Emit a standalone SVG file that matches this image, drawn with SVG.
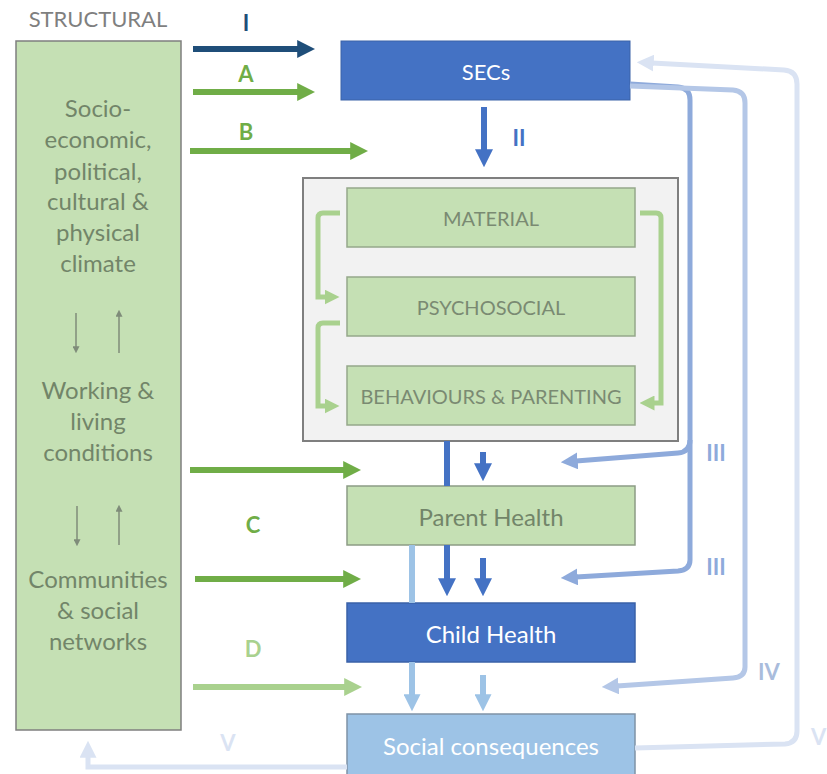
<svg xmlns="http://www.w3.org/2000/svg" width="827" height="774" viewBox="0 0 827 774">
<style>
text{font-family:Lato,"Open Sans","Liberation Sans",sans-serif;text-anchor:middle;dominant-baseline:central}
.lt{font-size:24px;fill:#728569}
.inner{font-size:20px;fill:#7a8a72}
.lbl{font-size:22px;font-weight:bold}
.greenbox{fill:#c5e0b4;stroke:#95a88b;stroke-width:1.5}
.ln{fill:none;stroke-width:6}
</style>
<defs>
<marker id="mNavy" viewBox="0 0 10 10" refX="1" refY="5" markerWidth="18" markerHeight="18" markerUnits="userSpaceOnUse" orient="auto"><path d="M0,0 L10,5 L0,10z" fill="#1f4e79"/></marker>
<marker id="mGreen" viewBox="0 0 10 10" refX="1" refY="5" markerWidth="18" markerHeight="18" markerUnits="userSpaceOnUse" orient="auto"><path d="M0,0 L10,5 L0,10z" fill="#70ad47"/></marker>
<marker id="mLGreen" viewBox="0 0 10 10" refX="1" refY="5" markerWidth="18" markerHeight="18" markerUnits="userSpaceOnUse" orient="auto"><path d="M0,0 L10,5 L0,10z" fill="#a9d18e"/></marker>
<marker id="mBrk" viewBox="0 0 10 10" refX="1" refY="5" markerWidth="15" markerHeight="15" markerUnits="userSpaceOnUse" orient="auto"><path d="M0,0 L10,5 L0,10z" fill="#a9d18e"/></marker>
<marker id="mBlue" viewBox="0 0 10 10" refX="1" refY="5" markerWidth="18" markerHeight="18" markerUnits="userSpaceOnUse" orient="auto"><path d="M0,0 L10,5 L0,10z" fill="#4472c4"/></marker>
<marker id="mLBlue" viewBox="0 0 10 10" refX="1" refY="5" markerWidth="17" markerHeight="17" markerUnits="userSpaceOnUse" orient="auto"><path d="M0,0 L10,5 L0,10z" fill="#9dc3e6"/></marker>
<marker id="mIII" viewBox="0 0 10 10" refX="1" refY="5" markerWidth="17" markerHeight="17" markerUnits="userSpaceOnUse" orient="auto"><path d="M0,0 L10,5 L0,10z" fill="#8eaadb"/></marker>
<marker id="mIV" viewBox="0 0 10 10" refX="1" refY="5" markerWidth="17" markerHeight="17" markerUnits="userSpaceOnUse" orient="auto"><path d="M0,0 L10,5 L0,10z" fill="#b4c7e7"/></marker>
<marker id="mV" viewBox="0 0 10 10" refX="1" refY="5" markerWidth="17" markerHeight="17" markerUnits="userSpaceOnUse" orient="auto"><path d="M0,0 L10,5 L0,10z" fill="#dae3f3"/></marker>
<marker id="mGray" viewBox="0 0 10 10" refX="1" refY="5" markerWidth="7" markerHeight="7" markerUnits="userSpaceOnUse" orient="auto"><path d="M0,0 L10,5 L0,10z" fill="#7f8c7a"/></marker>
</defs>
<rect width="827" height="774" fill="#ffffff"/>

<text x="98" y="18" style="font-size:22px;fill:#7f7f7f">STRUCTURAL</text>

<g id="structural">
<rect x="16" y="41" width="165" height="689" fill="#c5e0b4" stroke="#7f7f7f" stroke-width="1.5"/>
<text class="lt" x="98" y="107">Socio-</text>
<text class="lt" x="98" y="138">economic,</text>
<text class="lt" x="98" y="170">political,</text>
<text class="lt" x="98" y="200">cultural &amp;</text>
<text class="lt" x="98" y="231">physical</text>
<text class="lt" x="98" y="262">climate</text>
<text class="lt" x="98" y="389">Working &amp;</text>
<text class="lt" x="98" y="420">living</text>
<text class="lt" x="98" y="451">conditions</text>
<text class="lt" x="98" y="578">Communities</text>
<text class="lt" x="98" y="609">&amp; social</text>
<text class="lt" x="98" y="640">networks</text>
<g stroke="#7f8c7a" stroke-width="1.5" fill="none">
<line x1="76" y1="313" x2="76" y2="347" marker-end="url(#mGray)"/>
<line x1="119" y1="353" x2="119" y2="316" marker-end="url(#mGray)"/>
<line x1="77" y1="506" x2="77" y2="540" marker-end="url(#mGray)"/>
<line x1="119" y1="545" x2="119" y2="511" marker-end="url(#mGray)"/>
</g>
</g>

<g id="secs">
<rect x="341" y="41" width="289" height="59" fill="#4472c4" stroke="#3a62a8" stroke-width="1"/>
<text x="486" y="71" style="font-size:22px;fill:#ffffff">SECs</text>
</g>

<g id="intermediary">
<rect x="303" y="178" width="375" height="263" fill="#f2f2f2" stroke="#7f7f7f" stroke-width="2"/>
</g>
<g id="material">
<rect class="greenbox" x="347" y="188" width="288" height="59"/>
<text class="inner" x="491" y="218">MATERIAL</text>
</g>
<g id="psychosocial">
<rect class="greenbox" x="347" y="277" width="288" height="59"/>
<text class="inner" x="491" y="307">PSYCHOSOCIAL</text>
</g>
<g id="behaviours">
<rect class="greenbox" x="347" y="366" width="288" height="59"/>
<text class="inner" x="491" y="396">BEHAVIOURS &amp; PARENTING</text>
</g>

<g id="parent-health">
<rect x="347" y="486" width="288" height="59" fill="#c5e0b4" stroke="#8c9c85" stroke-width="1.5"/>
<text x="491" y="516" style="font-size:24px;fill:#728569">Parent Health</text>
</g>
<g id="child-health">
<rect x="347" y="603" width="288" height="59" fill="#4472c4" stroke="#3a62a8" stroke-width="1.5"/>
<text x="491" y="633" style="font-size:24px;fill:#ffffff">Child Health</text>
</g>
<g id="social-consequences">
<rect x="347" y="714" width="288" height="62" fill="#9dc3e6" stroke="#7f93a6" stroke-width="1.5"/>
<text x="491" y="745" style="font-size:24px;fill:#ffffff">Social consequences</text>
</g>

<g id="connectors">
<line class="ln" x1="193" y1="49" x2="299" y2="49" stroke="#1f4e79" marker-end="url(#mNavy)"/>
<line class="ln" x1="193" y1="92" x2="299" y2="92" stroke="#70ad47" marker-end="url(#mGreen)"/>
<line class="ln" x1="190" y1="151" x2="352" y2="151" stroke="#70ad47" marker-end="url(#mGreen)"/>
<line class="ln" x1="190" y1="470" x2="345" y2="470" stroke="#70ad47" marker-end="url(#mGreen)"/>
<line class="ln" x1="195" y1="579" x2="345" y2="579" stroke="#70ad47" marker-end="url(#mGreen)"/>
<line class="ln" x1="193" y1="687" x2="346" y2="687" stroke="#a9d18e" marker-end="url(#mLGreen)"/>

<line class="ln" x1="484" y1="107" x2="484" y2="151" stroke="#4472c4" marker-end="url(#mBlue)"/>

<path d="M340,213 L323,213 Q318,213 318,218 L318,297 L326,297" fill="none" stroke="#a9d18e" stroke-width="5" marker-end="url(#mBrk)"/>
<path d="M340,323 L323,323 Q318,323 318,328 L318,406 L326,406" fill="none" stroke="#a9d18e" stroke-width="5" marker-end="url(#mBrk)"/>
<path d="M640,213 L656,213 Q661,213 661,218 L661,403 L653,403" fill="none" stroke="#a9d18e" stroke-width="5" marker-end="url(#mBrk)"/>

<line class="ln" x1="447" y1="441" x2="447" y2="486" stroke="#4472c4"/>
<line class="ln" x1="447" y1="545" x2="447" y2="580" stroke="#4472c4" marker-end="url(#mBlue)"/>
<line class="ln" x1="483" y1="452" x2="483" y2="465" stroke="#4472c4" marker-end="url(#mBlue)"/>
<line class="ln" x1="483" y1="558" x2="483" y2="580" stroke="#4472c4" marker-end="url(#mBlue)"/>
<line class="ln" x1="412" y1="545" x2="412" y2="603" stroke="#9dc3e6"/>
<line class="ln" x1="412" y1="662" x2="412" y2="696" stroke="#9dc3e6" marker-end="url(#mLBlue)"/>
<line class="ln" x1="483" y1="675" x2="483" y2="696" stroke="#9dc3e6" marker-end="url(#mLBlue)"/>

<path d="M630,84 L678,87 Q690,88 690,100 L690,560 Q690,570 678,571 L576,577" fill="none" stroke="#8eaadb" stroke-width="5" marker-end="url(#mIII)"/>
<path d="M690,440 Q690,452 678,453 L576,461" fill="none" stroke="#8eaadb" stroke-width="5" marker-end="url(#mIII)"/>
<path d="M630,86 L733,90 Q745,91 745,103 L745,667 Q745,677 733,678 L617,686" fill="none" stroke="#b4c7e7" stroke-width="5" marker-end="url(#mIV)"/>
<path d="M635,748 L785,744 Q797,743 797,731 L797,84 Q797,71 784,70 L652,63" fill="none" stroke="#dae3f3" stroke-width="5" marker-end="url(#mV)"/>
<path d="M347,767 L88,767 L88,756" fill="none" stroke="#dae3f3" stroke-width="5" marker-end="url(#mV)"/>
</g>

<g id="labels">
<text class="lbl" x="246" y="22" fill="#1f4e79">I</text>
<text class="lbl" x="246" y="73" fill="#70ad47">A</text>
<text class="lbl" x="246" y="131" fill="#70ad47">B</text>
<text class="lbl" x="253" y="524" fill="#70ad47">C</text>
<text class="lbl" x="253" y="648" fill="#a9d18e">D</text>
<text class="lbl" x="519" y="137" fill="#4472c4">II</text>
<text class="lbl" x="716" y="452" fill="#8eaadb">III</text>
<text class="lbl" x="716" y="566" fill="#8eaadb">III</text>
<text class="lbl" x="769" y="671" fill="#a9bcdc">IV</text>
<text class="lbl" x="228" y="742" fill="#dae3f3">V</text>
<text class="lbl" x="811" y="736" fill="#dae3f3" style="text-anchor:start">V</text>
</g>
</svg>
